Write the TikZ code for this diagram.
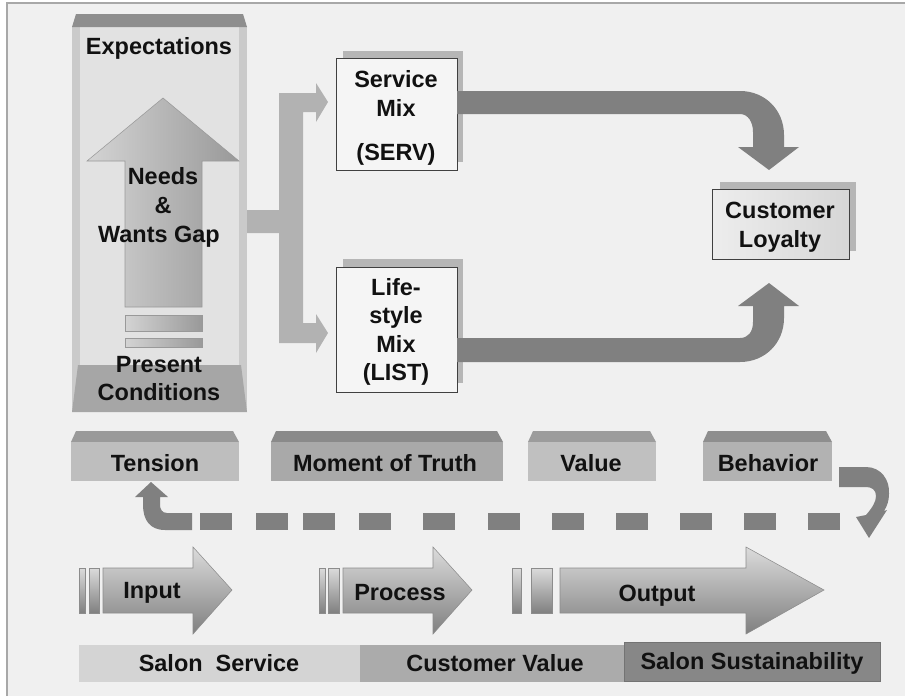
\documentclass[tikz,border=0pt]{standalone}
\usepackage{fontspec}
\setmainfont{Liberation Sans}
\definecolor{bg}{HTML}{F0F0F0}
\definecolor{frame}{HTML}{A8A8A8}
\definecolor{colbody}{HTML}{E2E2E2}
\definecolor{colside}{HTML}{CACACA}
\definecolor{colcap}{HTML}{8E8E8E}
\definecolor{colbase}{HTML}{A6A6A6}
\definecolor{bracket}{HTML}{B2B2B2}
\definecolor{darkarr}{HTML}{808080}
\definecolor{boxfill}{HTML}{F5F5F5}
\definecolor{boxline}{HTML}{404040}
\definecolor{shadow}{HTML}{B6B6B6}
\definecolor{txt}{HTML}{111111}
\tikzset{
  lbl/.style={font=\fontsize{17.6}{21}\selectfont\bfseries, text=txt, inner sep=0pt, anchor=base},
  darkarrow/.style={fill=darkarr},
  blockarrow/.style={draw=black!45, line width=0.4pt, top color=black!14, bottom color=black!50},
  uparrow/.style={draw=black!40, line width=0.4pt, left color=black!17, right color=black!40},
  boxshadow/.style={fill=shadow},
  whitebox/.style={fill=boxfill, draw=boxline, line width=0.6pt},
}
\begin{document}
\begin{tikzpicture}[x=0.75pt,y=-0.75pt]
\useasboundingbox (0,0) rectangle (905,696);
\fill[white] (0,0) rectangle (905,696);
\fill[bg] (7,3) rectangle (905,696);
\draw[frame, line width=1.4pt] (7,696) -- (7,3) -- (905,3);

% ---- column ----
\fill[colbody] (72,27) rectangle (247,412);
\fill[colside] (72,27) rectangle (80,412);
\fill[colside] (239,27) rectangle (247,412);
\fill[colcap] (76,14) -- (243,14) -- (247,27) -- (72,27) -- cycle;
\fill[colbase] (78,365) -- (241,365) -- (247,412) -- (72,412) -- cycle;
\path[uparrow] (125,307) -- (125,161) -- (87,161) -- (163,98) -- (239,161) -- (202,161) -- (202,307) -- cycle;
\path[uparrow] (125,315) rectangle (202,331);
\path[uparrow] (125,338) rectangle (202,347);

% ---- bracket arrows ----
\fill[bracket] (247,210) -- (279,210) -- (279,93) -- (316,93) -- (316,83) -- (328,102) -- (316,122) -- (316,112) -- (303,112)
  -- (303,323) -- (316,323) -- (316,314) -- (328,333) -- (316,353) -- (316,343) -- (279,343) -- (279,233) -- (247,233) -- cycle;

% ---- mix boxes ----
\fill[boxshadow] (343,51) rectangle (463,162);
\draw[whitebox] (336,58) rectangle (457,170);
\fill[boxshadow] (343,259) rectangle (463,383);
\draw[whitebox] (336,267) rectangle (457,392);

% ---- dark curved arrows to loyalty ----
\fill[darkarrow] (457,91) -- (740,91) .. controls (765,91) and (784,110) .. (784,135) -- (784,147) -- (799,147) -- (769,170)
  -- (738,147) -- (753,147) -- (753,132) .. controls (753,122) and (748,114) .. (740,114) -- (457,114) -- cycle;
\fill[darkarrow] (457,338) -- (740,338) .. controls (748,338) and (753,332) .. (753,322) -- (753,306) -- (738,306) -- (769,283)
  -- (799,306) -- (784,306) -- (784,318) .. controls (784,343) and (765,362) .. (740,362) -- (457,362) -- cycle;

% ---- customer loyalty ----
\fill[boxshadow] (720,182) rectangle (856,251);
\draw[draw=boxline, line width=0.6pt, left color=black!7, right color=black!16] (712,189) rectangle (849,259);

% ---- tabs ----
\foreach \a/\b/\body/\cap in {71/239/BEBEBE/9A9A9A, 271/503/A9A9A9/8A8A8A, 528/656/C0C0C0/9C9C9C, 703/832/B2B2B2/8E8E8E}{
  \definecolor{tb}{HTML}{\body}\definecolor{tc}{HTML}{\cap}
  \fill[tc] (\a+5,431) -- (\b-6,431) -- (\b,442) -- (\a,442) -- cycle;
  \fill[tb] (\a,442) rectangle (\b,481);
}

% ---- feedback loop ----
\foreach \x in {200,256,303,359,423,488,552,616,680,744,808}
  \fill[darkarrow] (\x,513) rectangle ++(32,17);
\fill[darkarrow] (192,513) -- (167,513) .. controls (162,513) and (160,509) .. (160,505) -- (160,497) -- (168,497) -- (151,482)
  -- (135,497) -- (143,497) -- (143,505) .. controls (143,520) and (150,530) .. (165,530) -- (192,530) -- cycle;
\fill[darkarrow] (839,467) -- (866,467) .. controls (881,467) and (890,480) .. (889,494) .. controls (889,501) and (887,506) .. (884,511)
  -- (887,510) -- (869,538) -- (856,517) -- (866,515) .. controls (872,508) and (876,502) .. (876,496)
  .. controls (876,490) and (872,487) .. (866,487) -- (839,487) -- cycle;

% ---- input / process / output ----
\path[blockarrow] (79,568) rectangle (85,613);
\path[blockarrow] (89,568) rectangle (99,613);
\path[blockarrow] (103,568) -- (193,568) -- (193,547) -- (232,590) -- (193,634) -- (193,613) -- (103,613) -- cycle;
\path[blockarrow] (319,568) rectangle (325,613);
\path[blockarrow] (328,568) rectangle (339,613);
\path[blockarrow] (343,568) -- (433,568) -- (433,547) -- (472,590) -- (433,634) -- (433,613) -- (343,613) -- cycle;
\path[blockarrow] (512,568) rectangle (521,613);
\path[blockarrow] (531,568) rectangle (552,613);
\path[blockarrow] (560,568) -- (746,568) -- (746,547) -- (824,590) -- (746,634) -- (746,613) -- (560,613) -- cycle;

% ---- bottom bars ----
\fill[black!17] (79,645) rectangle (360,682);
\fill[black!33] (360,645) rectangle (632,682);
\fill[black!47, draw=black!55, line width=0.4pt] (624,642) rectangle (880,681);

% ---- texts ----
\node[lbl] (expect) at (159,54) {Expectations};
\node[lbl] (needs1) at (163,184) {Needs};
\node[lbl] (needs2) at (163,213) {\&};
\node[lbl] (needs3) at (159,242) {Wants Gap};
\node[lbl] (pres1) at (159,372) {Present};
\node[lbl] (pres2) at (159,400) {Conditions};
\node[lbl] (serv1) at (396,87) {Service};
\node[lbl] (serv2) at (396,116) {Mix};
\node[lbl] (serv3) at (396,160) {(SERV)};
\node[lbl] (list1) at (396,295) {Life-};
\node[lbl] (list2) at (396,323) {style};
\node[lbl] (list3) at (396,352) {Mix};
\node[lbl] (list4) at (396,380) {(LIST)};
\node[lbl] (loy1) at (780,218) {Customer};
\node[lbl] (loy2) at (780,247) {Loyalty};
\node[lbl] (tension) at (155,471) {Tension};
\node[lbl] (moment) at (385,471) {Moment of Truth};
\node[lbl] (value) at (591,471) {Value};
\node[lbl] (behav) at (768,471) {Behavior};
\node[lbl] (input) at (152,598) {Input};
\node[lbl] (process) at (400,600) {Process};
\node[lbl] (output) at (657,601) {Output};
\node[lbl] (salon) at (219,671) {Salon\ \ Service};
\node[lbl] (custval) at (495,671) {Customer Value};
\node[lbl] (sustain) at (752,669) {Salon Sustainability};
\end{tikzpicture}
\end{document}
